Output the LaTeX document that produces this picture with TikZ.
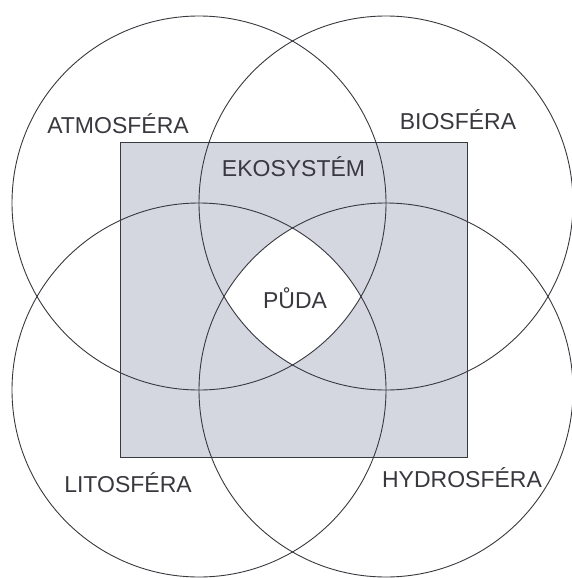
\documentclass[tikz,border=0pt]{standalone}
\usepackage{fontspec}
\setmainfont{Liberation Sans}
\definecolor{halftone}{HTML}{D4D7DF}
\definecolor{ink}{HTML}{38383F}

\begin{document}
\begin{tikzpicture}[x=1pt,y=-1pt,
        sphere/.style={circle,draw=ink,line width=0.9pt,minimum size=374pt,inner sep=0pt},
        sphere label/.style={text=ink,font=\fontsize{23}{23}\selectfont}]
    \useasboundingbox (0,0) rectangle (572,578);
    \coordinate (atmo c) at (199,203);
    \coordinate (bio c) at (386,203);
    \coordinate (lito c) at (199,390);
    \coordinate (hydro c) at (386,390);

    \node[draw=ink,line width=0.9pt,fill=halftone,minimum width=347pt,minimum height=315pt,inner sep=0pt]
        (eco) at (293.5,299.5) {};
    \node[sphere label] (eco label) at ([yshift=-25pt]eco.north) {EKOSYSTÉM};

    % common part of all four spheres
    \begin{scope}
        \clip (atmo c) circle (187pt);
        \clip (bio c) circle (187pt);
        \clip (lito c) circle (187pt);
        \fill[white] (hydro c) circle (187pt);
    \end{scope}

    \node[sphere] (atmo) at (atmo c) {};
    \node[sphere] (bio) at (bio c) {};
    \node[sphere] (lito) at (lito c) {};
    \node[sphere] (hydro) at (hydro c) {};

    \node[sphere label] (atmo label) at (118,124) {ATMOSFÉRA};
    \node[sphere label] (bio label) at (458,120) {BIOSFÉRA};
    \node[sphere label] (lito label) at (128,483) {LITOSFÉRA};
    \node[sphere label] (hydro label) at (462,478) {HYDROSFÉRA};
    \node[sphere label] (puda label) at (295,298) {PŮDA};
\end{tikzpicture}
\end{document}
